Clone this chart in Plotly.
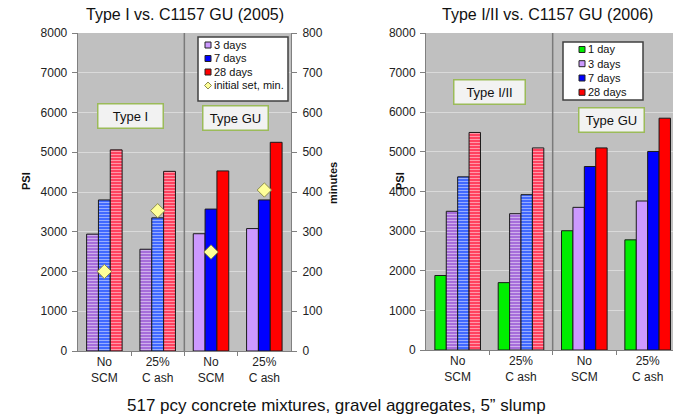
import plotly.graph_objects as go

W, H = 673, 419

# ---------------- data ----------------
group_labels = ["No<br>SCM", "25%<br>C ash", "No<br>SCM", "25%<br>C ash"]
group_pos = [0, 1, 2, 3]

left_title = "Type I vs. C1157 GU (2005)"
left_names = ["3 days", "7 days", "28 days", "initial set, min."]
left_3d = [2940, 2560, 2950, 3080]
left_7d = [3800, 3350, 3570, 3800]
left_28d = [5060, 4520, 4530, 5250]
left_set_min = [200, 353, 249, 405]

right_title = "Type I/II vs. C1157 GU (2006)"
right_names = ["1 day", "3 days", "7 days", "28 days"]
right_1d = [1880, 1700, 3010, 2780]
right_3d = [3500, 3440, 3600, 3760]
right_7d = [4370, 3920, 4630, 5010]
right_28d = [5490, 5100, 5100, 5850]

psi_ticks = list(range(0, 8001, 1000))
min_ticks = list(range(0, 801, 100))
caption = "517 pcy concrete mixtures, gravel aggregates, 5\u201d slump"

# ---------------- styling ----------------
FONT = "Liberation Sans, Arial, sans-serif"
solid = {"1d": "#00ee00", "3d": "#cc99ff", "7d": "#0000ff", "28d": "#ff0000"}
hatch_bg = {"1d": "#00ee00", "3d": "#9e5fd6", "7d": "#2f5bff", "28d": "#ff3050"}
hatch_fg = {"1d": "#00ee00", "3d": "#c8a0f2", "7d": "#86a0ff", "28d": "#ff8aa0"}
hatched = [True, True, False, False]


def px(x):
    return x / W


def py(y):
    return 1 - y / H


def bar_trace(vals, key, name, xa, ya, offset, width):
    shapes = ["-" if h else "" for h in hatched]
    if key == "1d":
        shapes = ["", "", "", ""]
    colors = [hatch_bg[key] if h else solid[key] for h in hatched]
    return go.Bar(
        x=group_pos, y=vals, name=name, xaxis=xa, yaxis=ya,
        offset=offset, width=width, showlegend=False,
        marker=dict(
            color=colors,
            line=dict(color="#1a1a1a", width=1),
            pattern=dict(shape=shapes, fgcolor=hatch_fg[key], bgcolor=colors,
                         size=3, solidity=0.45, fillmode="overlay"),
        ),
    )


fig = go.Figure()

lw = 0.222
for i, (vals, key) in enumerate([(left_3d, "3d"), (left_7d, "7d"), (left_28d, "28d")]):
    fig.add_trace(bar_trace(vals, key, left_names[i], "x", "y", -1.5 * lw + i * lw, lw))
fig.add_trace(go.Scatter(
    x=group_pos, y=left_set_min, mode="markers", name=left_names[3],
    xaxis="x", yaxis="y2", showlegend=False,
    marker=dict(symbol="diamond", size=11, color="#ffff99",
                line=dict(color="#8c8c50", width=1)),
))

rw = 0.18
for i, (vals, key) in enumerate([(right_1d, "1d"), (right_3d, "3d"),
                                 (right_7d, "7d"), (right_28d, "28d")]):
    fig.add_trace(bar_trace(vals, key, right_names[i], "x2", "y3", -2 * rw + i * rw, rw))

axis_common = dict(showline=True, linecolor="#808080", linewidth=1, automargin=False,
                   tickfont=dict(family=FONT, size=12, color="#222"), zeroline=False)

yb_left, yt = 351, 33
yb_right = 350

fig.update_layout(
    width=W, height=H, margin=dict(l=0, r=0, t=0, b=0, autoexpand=False),
    paper_bgcolor="white", plot_bgcolor="#c0c0c0",
    barmode="overlay", showlegend=False,
    font=dict(family=FONT, color="#111"),
    xaxis=dict(domain=[px(77.7), px(291)], range=[-0.5, 3.5], anchor="y",
               tickmode="array", tickvals=group_pos, ticktext=group_labels,
               ticks="", showgrid=False,
               minor=dict(tickvals=[0.5, 1.5, 2.5], ticks="outside", ticklen=4,
                          tickcolor="#808080", showgrid=False),
               **axis_common),
    yaxis=dict(domain=[py(yb_left), py(yt)], range=[0, 8000], anchor="x",
               tickmode="array", tickvals=psi_ticks, ticks="outside", ticklen=5,
               tickcolor="#808080", gridcolor="#dadada", gridwidth=1,
               ticklabelstandoff=2, **axis_common),
    yaxis2=dict(overlaying="y", side="right", anchor="x", range=[0, 800],
                tickmode="array", tickvals=min_ticks, ticks="outside", ticklen=5,
                tickcolor="#808080", showgrid=False, ticklabelstandoff=3,
                **axis_common),
    xaxis2=dict(domain=[px(426), 1.0], range=[-0.5, 3.40], anchor="y3",
                tickmode="array", tickvals=group_pos, ticktext=group_labels,
                ticks="", showgrid=False,
                minor=dict(tickvals=[0.5, 1.5, 2.5], ticks="outside", ticklen=4,
                           tickcolor="#808080", showgrid=False),
                **axis_common),
    yaxis3=dict(domain=[py(yb_right), py(yt)], range=[0, 8000], anchor="x2",
                tickmode="array", tickvals=psi_ticks, ticks="outside", ticklen=5,
                tickcolor="#808080", gridcolor="#dadada", gridwidth=1,
                ticklabelstandoff=2, **axis_common),
)

shapes = []
shapes.append(dict(type="line", xref="x", yref="y", x0=1.5, x1=1.5, y0=0, y1=8000,
                   line=dict(color="#7a7a7a", width=1.5)))
shapes.append(dict(type="line", xref="x2", yref="y3", x0=1.5, x1=1.5, y0=0, y1=8000,
                   line=dict(color="#7a7a7a", width=1.5)))

annotations = []


def text(x, y, s, size=12, bold=False, xanchor="center", **kw):
    annotations.append(dict(
        x=px(x), y=py(y), xref="paper", yref="paper", showarrow=False,
        xanchor=xanchor, yanchor="middle",
        text=f"<b>{s}</b>" if bold else s,
        font=dict(family=FONT, size=size, color="#111"), **kw))


text(185, 14, left_title, size=16)
text(547, 14, right_title, size=16)
text(336, 405, caption, size=17)
text(26, 181, "PSI", size=11, bold=True, textangle=-90)
text(333, 183, "minutes", size=11, bold=True, textangle=-90)
text(400, 181, "PSI", size=11, bold=True, textangle=-90)


def label_box(x, y, s, w):
    annotations.append(dict(
        x=px(x), y=py(y), xref="paper", yref="paper", showarrow=False,
        xanchor="center", yanchor="middle",
        text=s, font=dict(family=FONT, size=13, color="#111"),
        bgcolor="#f2f2f2", bordercolor="#9bbb59", borderwidth=1.5,
        borderpad=3, width=w, height=17))


label_box(130, 116.5, "Type I", 58)
label_box(236, 117.5, "Type GU", 58)
label_box(489, 91.5, "Type I/II", 64)
label_box(611, 120.5, "Type GU", 58)


def legend(x0, x1, y0, y1, names, colors, rows, sq_x, txt_x, diamond_last=False):
    shapes.append(dict(type="rect", xref="paper", yref="paper",
                       x0=px(x0), x1=px(x1), y0=py(y1), y1=py(y0),
                       fillcolor="white", line=dict(color="#404040", width=1.5)))
    for i, (n, yc) in enumerate(zip(names, rows)):
        if diamond_last and i == len(names) - 1:
            cx, r = sq_x + 3, 3.5
            path = (f"M {px(cx - r)},{py(yc)} L {px(cx)},{py(yc - r)} "
                    f"L {px(cx + r)},{py(yc)} L {px(cx)},{py(yc + r)} Z")
            shapes.append(dict(type="path", xref="paper", yref="paper", path=path,
                               fillcolor="#ffff99", line=dict(color="#8c8c50", width=1)))
        else:
            shapes.append(dict(type="rect", xref="paper", yref="paper",
                               x0=px(sq_x), x1=px(sq_x + 6), y0=py(yc + 3), y1=py(yc - 3),
                               fillcolor=colors[i], line=dict(color="#222", width=1)))
        annotations.append(dict(x=px(txt_x), y=py(yc), xref="paper", yref="paper",
                                showarrow=False, xanchor="left", yanchor="middle", text=n,
                                font=dict(family=FONT, size=11, color="#111")))


legend(198, 288, 37, 101, left_names, [solid["3d"], solid["7d"], solid["28d"]],
       [45, 58.5, 72, 85.5], 205, 211.5, diamond_last=True)
legend(563, 643, 42, 100, right_names,
       [solid["1d"], solid["3d"], solid["7d"], solid["28d"]],
       [49.5, 63.7, 78, 92.3], 579, 585.5)

fig.update_layout(shapes=shapes, annotations=annotations)
fig.write_html("out.html", config={"displayModeBar": False},
               post_script="document.body.style.margin='0px';document.body.style.overflow='hidden';")
